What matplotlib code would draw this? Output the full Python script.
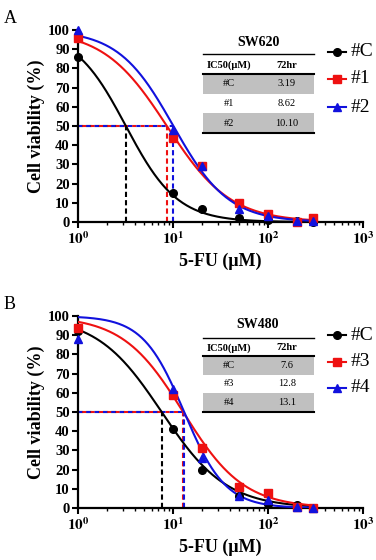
import numpy as np
import matplotlib
matplotlib.use("Agg")
import matplotlib.pyplot as plt
from matplotlib.lines import Line2D

plt.rcParams['font.family'] = ['Liberation Serif', 'DejaVu Serif']
plt.rcParams['mathtext.fontset'] = 'stix'

# doses (uM)
dose = [1, 10, 20, 50, 100, 200, 300]

# panel A (SW620)
a_labels = ['#C', '#1', '#2']
a_C = [86, 15, 7, 2, 1, 0.5, 0]
a_1 = [96, 44, 29, 10, 4, 0, 2]
a_2 = [100, 48, 29, 7, 3, 0.5, 0.5]
a_ic50 = [3.19, 8.62, 10.10]
a_hill = [1.6, 1.3, 1.5]
a_ic50_txt = ['3.19', '8.62', '10.10']

# panel B (SW480)
b_labels = ['#C', '#3', '#4']
b_C = [92, 41, 20, 6, 2, 1.5, 0]
b_3 = [94, 59, 31, 11, 8, 0.5, 0]
b_4 = [88, 62, 26, 6, 4, 0.5, 0]
b_ic50 = [7.6, 12.8, 13.1]
b_hill = [1.27, 1.36, 2.0]
b_ic50_txt = ['7.6', '12.8', '13.1']

colors = ['black', '#ee1111', '#1111dd']
markers = ['o', 's', '^']

W, H = 376, 560
fig = plt.figure(figsize=(W / 100, H / 100), dpi=100)


def fx(px):
    return px / W


def fy(py):
    return 1 - py / H


def panel(top_px, bot_px, letter, cell, labels, series, ic50s, hills, ic50_txt,
          tab_y, leg_y):
    ax = fig.add_axes([fx(78), fy(bot_px), fx(363) - fx(78), fy(top_px) - fy(bot_px)])
    xs = np.logspace(0, np.log10(300), 300)
    for i, (yv, ic, h) in enumerate(zip(series, ic50s, hills)):
        ax.plot(xs, 100 / (1 + (xs / ic) ** h), color=colors[i], lw=1.5, zorder=3)
    for i, yv in enumerate(series):
        ax.plot(dose, yv, ls='none', marker=markers[i], color=colors[i],
                ms=5.5 if markers[i] != '^' else 6, clip_on=False, zorder=4)
    for i, ic in enumerate(ic50s):
        dash = (i * 2.0, (2.0, 2.0)) if i else (0, (2.5, 1.5))
        ax.plot([1, ic], [50, 50], color=colors[i], ls=dash, lw=1.5, zorder=2)
        ax.plot([ic, ic], [0, 50], color=colors[i], ls=(0, (2.5, 1.5)), lw=1.5, zorder=2)

    ax.set_xscale('log')
    ax.set_xlim(1, 1000)
    ax.set_ylim(0, 100)
    ax.set_yticks(range(0, 101, 10))
    ax.set_yticklabels([str(v) for v in range(0, 101, 10)], fontweight='bold', fontsize=10.5)
    ax.set_xticks([1, 10, 100, 1000])
    ax.set_xticklabels([r'$\mathbf{10^{%d}}$' % k for k in range(4)], fontsize=11)
    for s in ['top', 'right']:
        ax.spines[s].set_visible(False)
    for s in ['left', 'bottom']:
        ax.spines[s].set_linewidth(1.6)
    ax.tick_params(axis='both', which='major', width=1.5, length=4, pad=2)
    ax.tick_params(axis='x', which='minor', width=1.0, length=2.5)
    ax.set_ylabel('Cell viability (%)', fontsize=13, fontweight='bold', labelpad=2)
    ax.set_xlabel('5-FU (\u03bcM)', fontsize=13, fontweight='bold', labelpad=4)

    fig.text(fx(4), fy(top_px - 20), letter, fontsize=13, va='top', ha='left')

    # IC50 table
    x0, x1 = fx(203), fx(314)
    t = tab_y
    fig.text(fx(258), fy(t[0]), cell, fontsize=10, fontweight='bold', ha='center', va='center')
    fig.add_artist(Line2D([x0, x1], [fy(t[1]), fy(t[1])], color='black', lw=1.0))
    fig.text(fx(229), fy(t[2]), 'IC50(\u03bcM)', fontsize=7.5, fontweight='bold', ha='center', va='center')
    fig.text(fx(287), fy(t[2]), '72hr', fontsize=7.5, fontweight='bold', ha='center', va='center')
    fig.add_artist(Line2D([x0, x1], [fy(t[3]), fy(t[3])], color='black', lw=1.5))
    rh = (t[4] - t[3]) / 3
    for r in range(3):
        ya, yb = t[3] + r * rh, t[3] + (r + 1) * rh
        if r != 1:
            fig.add_artist(plt.Rectangle((x0, fy(yb)), x1 - x0, fy(ya) - fy(yb),
                                         transform=fig.transFigure, color='#c0c0c0', lw=0))
        fig.text(fx(229), fy((ya + yb) / 2), labels[r], fontsize=7.5, ha='center', va='center')
        fig.text(fx(287), fy((ya + yb) / 2), ic50_txt[r], fontsize=7.5, ha='center', va='center')
    fig.add_artist(Line2D([x0, x1], [fy(t[4]), fy(t[4])], color='black', lw=1.5))

    # legend
    for i, lab in enumerate(labels):
        y = fy(leg_y[i])
        fig.add_artist(Line2D([fx(328), fx(346)], [y, y], color=colors[i], lw=1.5))
        fig.add_artist(Line2D([fx(337)], [y], color=colors[i], marker=markers[i],
                              ms=5.5, ls='none'))
        fig.text(fx(351), y, lab, fontsize=14, ha='left', va='center')
    return ax


panel(30, 222, 'A', 'SW620', a_labels, [a_C, a_1, a_2], a_ic50, a_hill, a_ic50_txt,
      [42, 54, 65, 74, 133], [52, 79, 107])
panel(316, 508, 'B', 'SW480', b_labels, [b_C, b_3, b_4], b_ic50, b_hill, b_ic50_txt,
      [325, 338, 348, 356, 412], [335, 362, 388])

fig.savefig('out.png', dpi=100)
